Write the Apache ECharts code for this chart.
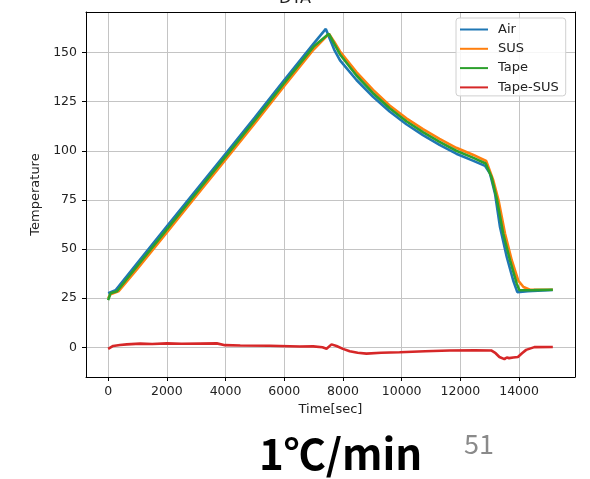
<!DOCTYPE html>
<html>
<head>
<meta charset="utf-8">
<script src="https://cdn.jsdelivr.net/npm/echarts@6/dist/echarts.min.js"></script>
<style>
  html, body { margin: 0; padding: 0; background: #fff; }
  #chart { width: 590px; height: 479px; }
</style>
</head>
<body>
<div id="chart"></div>
<script>
// Temperature histories [time (s), temperature]
const airData = [
  [0, 27.5], [60, 28.5], [250, 29], [1000, 43], [2000, 61.5], [3000, 80], [4000, 98.5],
  [5000, 117], [6000, 136], [7000, 154.5], [7415, 162],
  [7550, 157], [7700, 151.5], [7900, 146], [8460, 136], [9025, 127.5], [9590, 120],
  [10160, 113.5], [10725, 108], [11290, 103], [11860, 98.5], [12425, 95], [12840, 92.3],
  [13010, 88.4], [13180, 78.2], [13350, 61.2], [13580, 46], [13800, 34], [13940, 28.1],
  [14300, 28.5], [15150, 29.2]
];
const susData = [
  [0, 25], [80, 27], [350, 28.5], [1000, 40], [2000, 58.5], [3000, 77], [4000, 95.5],
  [5000, 114], [6000, 133], [7000, 151.5], [7520, 159.5],
  [7700, 155.5], [7900, 150.5], [8460, 140], [9025, 131], [9590, 123], [10160, 116.5],
  [10725, 111], [11290, 106], [11860, 101.5], [12425, 98], [12880, 94.8],
  [13120, 85], [13300, 74.8], [13520, 57.9], [13750, 44.3], [13970, 34], [14150, 30.7],
  [14370, 29.3], [15150, 29.3]
];
const tapeData = [
  [0, 24], [80, 27.5], [300, 28.5], [1000, 41.5], [2000, 60], [3000, 78.5], [4000, 97],
  [5000, 115.5], [6000, 134.5], [7000, 153], [7520, 159.5],
  [7700, 154.5], [7900, 149], [8460, 138.3], [9025, 129.3], [9590, 121.6], [10160, 115],
  [10725, 109.5], [11290, 104.5], [11860, 100], [12425, 96.5], [12860, 93.5],
  [13060, 86.7], [13240, 75.6], [13460, 57.8], [13690, 44.3], [13920, 32.4], [14010, 29],
  [14500, 29.1], [15150, 29.3]
];
const diffData = [
  [0, -0.8], [60, -0.3], [170, 0.7], [400, 1.2], [635, 1.5], [1090, 1.9], [1500, 1.7],
  [2000, 2.0], [2500, 1.8], [3130, 1.9], [3700, 2.0], [3980, 1.1], [4500, 0.9],
  [5500, 0.8], [6530, 0.4], [6985, 0.5], [7300, 0.0], [7440, -0.7], [7610, 1.5],
  [7780, 0.7], [8000, -0.8], [8230, -2.0], [8500, -2.8], [8800, -3.2], [9300, -2.8],
  [9930, -2.5], [10800, -2.0], [11630, -1.6], [12500, -1.5], [13050, -1.6], [13200, -3.0],
  [13330, -4.9], [13500, -6.0], [13580, -5.2], [13620, -4.2], [13660, -5.5], [13800, -5.2],
  [13960, -4.9], [14100, -3.0], [14240, -1.3], [14520, 0.1], [15150, 0.2]
];
const seriesNames = ['Air', 'SUS', 'Tape', 'Tape-SUS'];
const seriesColors = ['#1f77b4', '#ff7f0e', '#2ca02c', '#d62728'];
const seriesData = [airData, susData, tapeData, diffData];

const xRange = [-755, 15905];
const yRange = [-15.1, 170.6];

const chart = echarts.init(document.getElementById('chart'), null, { renderer: 'canvas' });
const tickFont = { fontFamily: 'DejaVu Sans', fontSize: 12.5, color: '#222' };
const plainNumber = v => String(Math.round(v));

// frame axes on the top and right sides of the plot box
const frameAxis = {
  type: 'value', show: true,
  axisLine: { show: true, onZero: false, lineStyle: { color: '#000', width: 1 } },
  axisTick: { show: false }, axisLabel: { show: false }, splitLine: { show: false }
};

chart.setOption({
  animation: false,
  backgroundColor: '#fff',
  title: {
    text: 'DTA', left: 'center', top: -14,
    textStyle: { fontFamily: 'DejaVu Sans', fontSize: 16, fontWeight: 'normal', color: '#222' }
  },
  grid: { left: 86, right: 15, top: 12, bottom: 102 },
  legend: {
    orient: 'vertical', left: 456, top: 18,
    data: seriesNames,
    icon: 'path://M0,6 L28,6 L28,8 L0,8 Z',
    itemWidth: 28, itemHeight: 14, itemGap: 6.3,
    padding: [5, 7, 2, 4],
    backgroundColor: 'rgba(255,255,255,0.85)',
    borderColor: '#d0d0d0', borderWidth: 1, borderRadius: 3,
    textStyle: { fontFamily: 'DejaVu Sans', fontSize: 13, color: '#222', padding: [0, 0, 0, 5] }
  },
  xAxis: [{
    type: 'value', min: xRange[0], max: xRange[1],
    minInterval: 2000, maxInterval: 2000, splitNumber: 8,
    name: 'Time[sec]', nameLocation: 'middle', nameGap: 26,
    nameTextStyle: { fontFamily: 'DejaVu Sans', fontSize: 13, color: '#222' },
    axisLine: { show: true, onZero: false, lineStyle: { color: '#000', width: 1 } },
    axisTick: { show: true, inside: false, length: 4, lineStyle: { color: '#000' } },
    axisLabel: Object.assign({ margin: 8, showMinLabel: false, showMaxLabel: false, formatter: plainNumber }, tickFont),
    splitLine: { show: true, lineStyle: { color: '#c4c4c4', width: 1 } }
  }, Object.assign({ position: 'top', min: xRange[0], max: xRange[1] }, frameAxis)],
  yAxis: [{
    type: 'value', min: yRange[0], max: yRange[1],
    minInterval: 25, maxInterval: 25, splitNumber: 7,
    name: 'Temperature', nameLocation: 'middle', nameGap: 43, nameRotate: 90,
    nameTextStyle: { fontFamily: 'DejaVu Sans', fontSize: 13, color: '#222' },
    axisLine: { show: true, onZero: false, lineStyle: { color: '#000', width: 1 } },
    axisTick: { show: true, inside: false, length: 4, lineStyle: { color: '#000' } },
    axisLabel: Object.assign({ margin: 9, showMinLabel: false, showMaxLabel: false, formatter: plainNumber }, tickFont),
    splitLine: { show: true, lineStyle: { color: '#c4c4c4', width: 1 } }
  }, Object.assign({ position: 'right', min: yRange[0], max: yRange[1] }, frameAxis)],
  series: seriesNames.map((name, i) => ({
    name: name,
    type: 'line',
    data: seriesData[i],
    showSymbol: false,
    symbol: 'none',
    color: seriesColors[i],
    lineStyle: { color: seriesColors[i], width: 2.6 },
    z: 2 + i
  })),
  graphic: [
    {
      type: 'text', left: 259, top: 433,
      style: {
        text: '1℃/min', fill: '#000',
        font: 'bold 42px "Noto Sans CJK JP", sans-serif'
      }
    },
    {
      type: 'text', left: 464, top: 430,
      style: {
        text: '51', fill: '#8a8a8a',
        font: '27px "Noto Sans CJK JP", sans-serif'
      }
    }
  ]
});
</script>
</body>
</html>
